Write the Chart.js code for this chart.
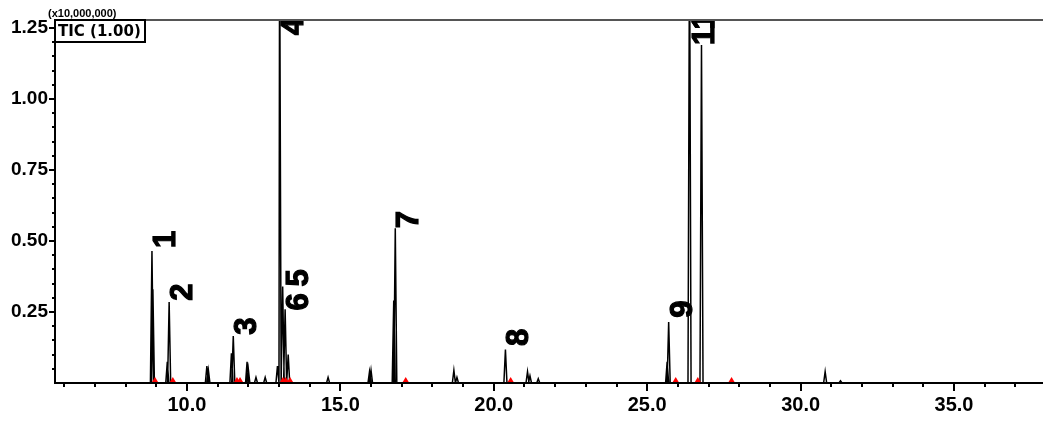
<!DOCTYPE html>
<html><head><meta charset="utf-8">
<script src="https://cdn.jsdelivr.net/npm/chart.js@4"></script>
<style>html,body{margin:0;padding:0;background:#fff;}#wrap{width:1043px;height:421px;}</style>
</head><body><div id="wrap"><canvas id="c" width="1043" height="421"></canvas></div>
<script>
// ---- data (retention time in min, intensity x10,000,000) ----
const peakTimes   = [8.86, 8.89, 9.36, 9.42, 10.65, 10.7, 11.45, 11.51, 11.96, 12.0, 12.25, 12.55, 12.95, 13.02, 13.12, 13.2, 13.3, 14.6, 15.95, 16.0, 16.74, 16.79, 18.7, 18.8, 20.38, 21.1, 21.18, 21.45, 25.65, 25.7, 26.38, 26.77, 30.8, 31.3];
const peakHeights = [0.465, 0.33, 0.075, 0.285, 0.06, 0.045, 0.105, 0.165, 0.075, 0.05, 0.02, 0.02, 0.06, 1.6, 0.34, 0.26, 0.1, 0.02, 0.04, 0.045, 0.29, 0.545, 0.045, 0.02, 0.118, 0.04, 0.025, 0.015, 0.075, 0.215, 1.6, 1.19, 0.04, 0.008];
const markerTimes = [8.96, 9.54, 11.63, 11.73, 13.13, 13.22, 13.36, 17.13, 20.55, 25.93, 26.65, 27.75];
const labelTexts   = ['1', '2', '3', '4', '5', '6', '7', '8', '9', '10', '11'];
const labelTimes   = [8.86, 9.42, 11.51, 13.02, 13.19, 13.19, 16.79, 20.38, 25.7, 26.42, 26.42];
const labelHeights = [0.475, 0.29, 0.17, 1.225, 0.34, 0.255, 0.545, 0.13, 0.23, 1.245, 1.19];
const xTickLabels = ['10.0', '15.0', '20.0', '25.0', '30.0', '35.0'];
const yTickLabels = ['0.25', '0.50', '0.75', '1.00', '1.25'];
const xMin = 5.7, xMax = 37.9, yMax = 1.278;

const lineData = [{x: xMin, y: 0}];
const W = 0.05;
peakTimes.forEach((t, i) => {
  lineData.push({x: t - W, y: 0}, {x: t, y: peakHeights[i]}, {x: t + W, y: 0});
});
lineData.push({x: xMax, y: 0});

const decor = {
  id: 'decor',
  afterDatasetsDraw(chart) {
    const ctx = chart.ctx, a = chart.chartArea, xs = chart.scales.x, ys = chart.scales.y;
    ctx.save();
    // peak labels (rotated), clipped to plot area
    ctx.save();
    ctx.beginPath(); ctx.rect(a.left, a.top + 1, a.right - a.left, a.bottom - a.top); ctx.clip();
    ctx.fillStyle = '#000'; ctx.strokeStyle = '#000'; ctx.lineWidth = 1.2; ctx.lineJoin = 'miter';
    ctx.font = 'bold 31px "Liberation Sans", Arial, sans-serif';
    ctx.textAlign = 'left'; ctx.textBaseline = 'alphabetic';
    labelTexts.forEach((txt, i) => {
      const px = xs.getPixelForValue(labelTimes[i]);
      const py = ys.getPixelForValue(labelHeights[i]);
      ctx.save();
      ctx.translate(px + 23, py);
      ctx.rotate(-Math.PI / 2);
      ctx.fillText(txt, 0, 0);
      ctx.strokeText(txt, 0, 0);
      ctx.restore();
    });
    ctx.restore();
    // red integration markers on the baseline
    ctx.fillStyle = '#ff0000';
    markerTimes.forEach(t => {
      const px = xs.getPixelForValue(t);
      const by = a.bottom - 1;
      ctx.beginPath(); ctx.moveTo(px - 3, by); ctx.lineTo(px + 3, by); ctx.lineTo(px, by - 5); ctx.closePath(); ctx.fill();
    });
    // top frame line
    ctx.strokeStyle = '#555'; ctx.lineWidth = 2;
    ctx.beginPath(); ctx.moveTo(a.left, a.top); ctx.lineTo(a.right, a.top); ctx.stroke();
    // tick marks
    ctx.strokeStyle = '#000'; ctx.lineWidth = 2;
    for (let v = Math.ceil(xMin); v <= xMax; v++) {
      const px = Math.round(xs.getPixelForValue(v));
      const len = (v % 5 === 0) ? 8 : 4;
      ctx.beginPath(); ctx.moveTo(px, a.bottom); ctx.lineTo(px, a.bottom + len); ctx.stroke();
    }
    for (let k = 1; k * 0.05 <= yMax; k++) {
      const py = Math.round(ys.getPixelForValue(k * 0.05));
      const len = (k % 5 === 0) ? 6 : 3;
      ctx.beginPath(); ctx.moveTo(a.left, py); ctx.lineTo(a.left - len, py); ctx.stroke();
    }
    // TIC box
    ctx.fillStyle = '#fff';
    ctx.fillRect(a.left, a.top, 90, 22);
    ctx.strokeStyle = '#000'; ctx.lineWidth = 2;
    ctx.strokeRect(a.left, a.top, 90, 22);
    ctx.fillStyle = '#000';
    ctx.font = 'bold 15px "DejaVu Sans", sans-serif';
    ctx.textAlign = 'left'; ctx.textBaseline = 'middle';
    ctx.fillText('TIC (1.00)', a.left + 3, a.top + 12);
    // unit text
    ctx.font = 'bold 11px "Liberation Sans", Arial, sans-serif';
    ctx.textBaseline = 'alphabetic';
    ctx.fillText('(x10,000,000)', a.left - 7, 17);
    ctx.restore();
  }
};

new Chart(document.getElementById('c'), {
  type: 'line',
  data: {
    datasets: [
      {data: lineData, borderColor: '#000', borderWidth: 1.5, pointRadius: 0, fill: false, tension: 0}
    ]
  },
  options: {
    responsive: false,
    animation: false,
    events: [],
    layout: {padding: {top: 20, right: 0, left: 0, bottom: 0}},
    plugins: {legend: {display: false}, tooltip: {enabled: false}},
    scales: {
      x: {
        type: 'linear', min: xMin, max: xMax,
        grid: {display: false, drawTicks: false},
        border: {display: true, color: '#000', width: 2},
        afterBuildTicks: s => { s.ticks = xTickLabels.map(l => ({value: parseFloat(l)})); },
        afterFit: s => { s.height = 38; s.paddingLeft = 0; s.paddingRight = 0; },
        ticks: {
          autoSkip: false, maxRotation: 0, padding: 10, color: '#000',
          font: {family: '"Liberation Sans", Arial, sans-serif', size: 20, weight: 'bold'},
          callback: v => xTickLabels[xTickLabels.map(parseFloat).indexOf(v)]
        }
      },
      y: {
        type: 'linear', min: 0, max: yMax,
        grid: {display: false, drawTicks: false},
        border: {display: true, color: '#000', width: 2},
        afterBuildTicks: s => { s.ticks = yTickLabels.map(l => ({value: parseFloat(l)})); },
        afterFit: s => { s.width = 55; s.paddingTop = 0; s.paddingBottom = 0; },
        ticks: {
          autoSkip: false, padding: 7, color: '#000',
          font: {family: '"Liberation Sans", Arial, sans-serif', size: 19, weight: 'bold'},
          callback: v => yTickLabels[yTickLabels.map(parseFloat).indexOf(v)]
        }
      }
    }
  },
  plugins: [decor]
});
</script>
</body></html>
